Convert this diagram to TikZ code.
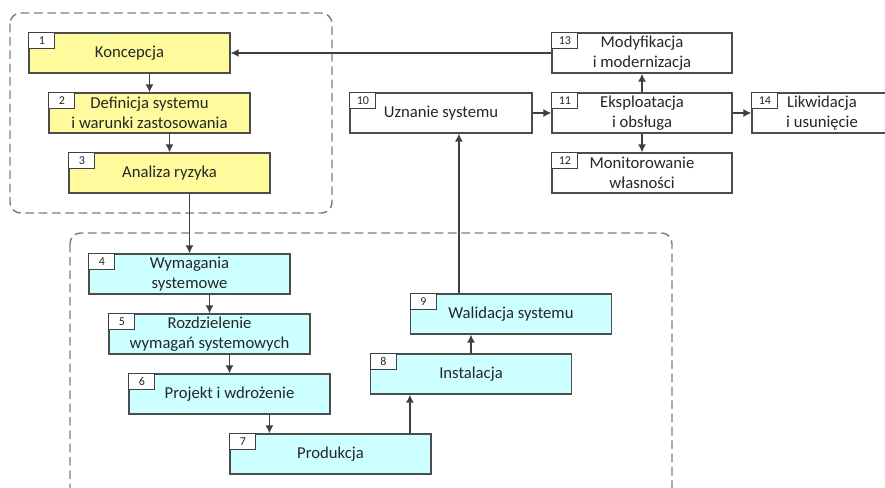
\documentclass[tikz,border=0pt]{standalone}
\usepackage{fontspec}
\setmainfont{Carlito}
\usetikzlibrary{arrows.meta}
\usetikzlibrary{positioning}
\definecolor{boxyellow}{RGB}{255,250,155}
\definecolor{boxcyan}{RGB}{204,255,255}
\definecolor{framegray}{RGB}{125,125,125}

\tikzset{
  stage/.style={draw=black!70, line width=0.9pt, minimum width=150.75pt, minimum height=30pt,
    inner sep=0pt, align=center, font=\fontsize{12.5}{15}\selectfont, text=black!85},
  early/.style={stage, fill=boxyellow},
  mid/.style={stage, fill=boxcyan},
  late/.style={stage, fill=white, minimum width=135pt},
  tag/.style={draw=black!75, line width=0.8pt, fill=white, anchor=north west,
    minimum width=19.5pt, minimum height=12pt, inner sep=0pt,
    font=\fontsize{9}{10}\selectfont, text=black!85},
  frame/.style={draw=framegray, line width=1.1pt, dash pattern=on 6.5pt off 3.5pt, rounded corners=8pt},
  arr/.style={-{Latex[length=6pt,width=6pt]}, line width=1.1pt, draw=black!75}
}

\begin{document}
\begin{tikzpicture}[x=0.75pt, y=-0.75pt]
\clip (0,0) rectangle (885,488);

% dashed frames
\draw[frame] (10,13) rectangle (332,213);
\draw[frame] (70,233) rectangle (672,530);

% concept stages
\node[early] (n1) at (129.5,53) {Koncepcja};
\node[early] (n2) at (149.5,113) {Definicja systemu\\i warunki zastosowania};
\node[early] (n3) at (169.5,173) {Analiza ryzyka};

% realisation stages
\node[mid] (n4) at (189.5,274) {Wymagania\\systemowe};
\node[mid] (n5) at (209.5,334) {Rozdzielenie\\wymagań systemowych};
\node[mid] (n6) at (229.5,394) {Projekt i wdrożenie};
\node[mid] (n7) at (330.5,454) {Produkcja};
\node[mid] (n8) at (471,374) {Instalacja};
\node[mid] (n9) at (511,314) {Walidacja systemu};

% operation stages
\node[late, minimum width=136.5pt] (n10) at (441,113) {Uznanie systemu};
\node[late] (n11) at (642,113) {Eksploatacja\\i obsługa};
\node[late] (n12) at (642,173) {Monitorowanie\\własności};
\node[late] (n13) at (642,53) {Modyfikacja\\i modernizacja};
\node[late, minimum width=105pt] (n14) at (822,113) {Likwidacja\\i usunięcie};

% number tags
\foreach \i in {1,...,14}
  \node[tag] (t\i) at (n\i.north west) {\i};

% connectors
\draw[arr] (n13) -- (n1);
\draw[arr] (n1.south -| n2.north) -- (n2.north);
\draw[arr] (n2.south -| n3.north) -- (n3.north);
\draw[arr] (n3.south -| n4.north) -- (n4.north);
\draw[arr] (n4.south -| n5.north) -- (n5.north);
\draw[arr] (n5.south -| n6.north) -- (n6.north);
\draw[arr] ([xshift=30pt]n7.north west |- n6.south) -- ([xshift=30pt]n7.north west);
\draw[arr] ([xshift=30pt]n8.south west |- n7.north) -- ([xshift=30pt]n8.south west);
\draw[arr] (n8.north) -- (n8.north |- n9.south);
\draw[arr] ([xshift=36.75pt]n9.north west) -- ([xshift=36.75pt]n9.north west |- n10.south);
\draw[arr] (n10) -- (n11);
\draw[arr] (n11) -- (n13);
\draw[arr] (n11) -- (n12);
\draw[arr] (n11) -- (n14);

\end{tikzpicture}
\end{document}
